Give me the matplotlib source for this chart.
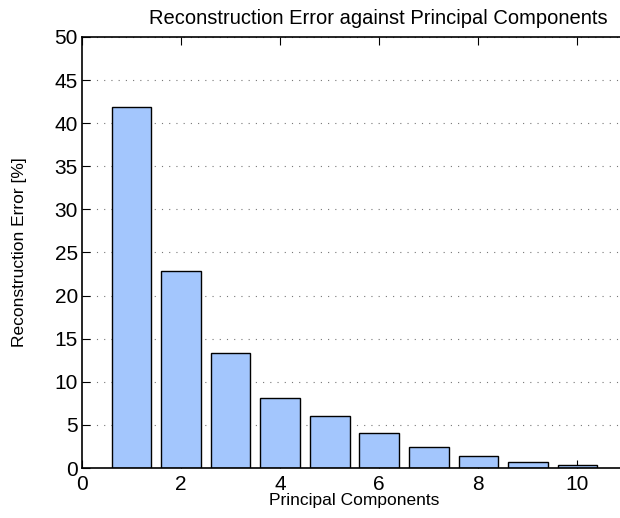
import numpy as np
import matplotlib
matplotlib.use('Agg')
import matplotlib.pyplot as plt

plt.rcParams['font.family'] = ['Liberation Sans', 'DejaVu Sans']

# reconstruction error (%) left after keeping n principal components
components = [1, 2, 3, 4, 5, 6, 7, 8, 9, 10]
recon_error = [41.9, 22.85, 13.3, 8.15, 6.05, 4.05, 2.4, 1.4, 0.7, 0.35]

fig = plt.figure(figsize=(6.2, 5.18), dpi=100)
ax = fig.add_axes([82 / 620, 50 / 518, 545 / 620, 431 / 518])

ax.bar(components, recon_error, width=0.8, color='#a3c6fd', edgecolor='black',
       linewidth=1.0, zorder=2)

ax.set_xlim(0, 11)
ax.set_ylim(0, 50)
ax.set_xticks([0, 2, 4, 6, 8, 10])
ax.set_yticks(np.arange(0, 51, 5))

# dotted horizontal grid only
ax.yaxis.grid(True, linestyle=(0, (1, 5.5)), color='#777777', linewidth=0.8)
ax.set_axisbelow(True)

ax.tick_params(direction='in', length=6, width=0.8, top=True, right=False,
               labelsize=15)
ax.tick_params(axis='x', pad=5)
ax.tick_params(axis='y', pad=3)
for sp in ax.spines.values():
    sp.set_linewidth(1.2)
    sp.set_zorder(3)

ax.set_xlabel('Principal Components', fontsize=12.5, labelpad=-0.5)
ax.set_ylabel('Reconstruction Error [%]', fontsize=12.5, labelpad=20)
fig.text(378 / 620, 1 - 19 / 518, 'Reconstruction Error against Principal Components',
         ha='center', va='center', fontsize=14.5)

fig.savefig('out.png', dpi=100)
